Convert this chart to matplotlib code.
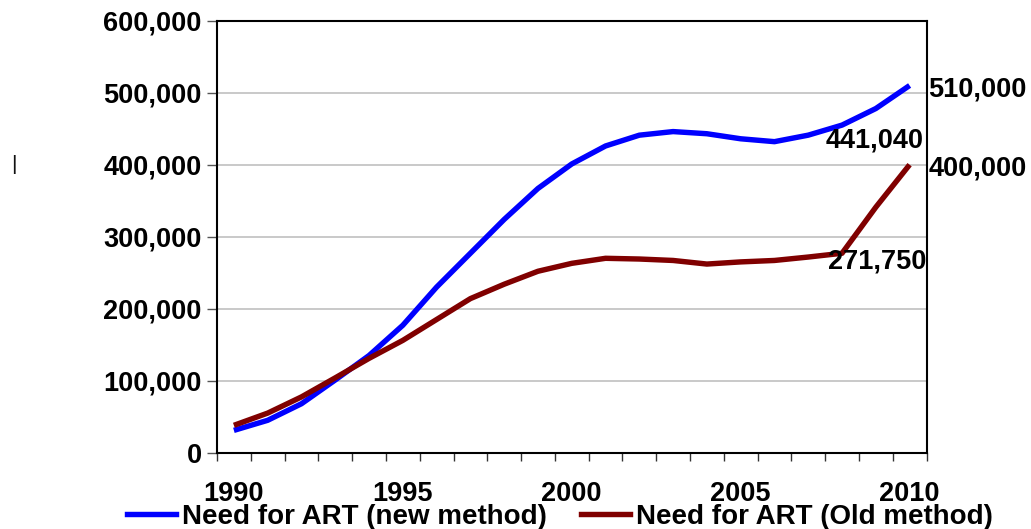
import matplotlib.pyplot as plt
from matplotlib.lines import Line2D

# ART need estimates, 1990-2010
years = list(range(1990, 2011))
need_new = [31000, 45000, 68000, 101000, 135000, 177000, 230000, 277000, 324000, 367000,
            401000, 426000, 441000, 446000, 443000, 436000, 432000, 441040, 455000, 478000, 510000]
need_old = [38000, 55000, 77500, 104000, 131000, 156000, 185000, 214000, 234000, 252000,
            263000, 270000, 269000, 267000, 262000, 265000, 267000, 271750, 277000, 341000, 400000]
year_labels = [1990, 1995, 2000, 2005, 2010]
y_ticks = [0, 100000, 200000, 300000, 400000, 500000, 600000]

plt.rcParams['font.family'] = ['Liberation Sans', 'DejaVu Sans']
plt.rcParams['font.weight'] = 'bold'
FS = 19.5
BLUE = '#0000ff'
RED = '#800000'

fig = plt.figure(figsize=(10.31, 5.29), dpi=100)
ax = fig.add_axes([217 / 1031, 76.3 / 529, 709.5 / 1031, 432 / 529])

idx = list(range(len(years)))
ax.plot(idx, need_new, color=BLUE, lw=3.9, solid_capstyle='butt', zorder=3)
ax.plot(idx, need_old, color=RED, lw=3.9, solid_capstyle='butt', zorder=3)

ax.set_xlim(-0.5, len(years) - 0.5)
ax.set_ylim(0, 600000)

# category boundaries carry the tick marks, labels sit on the years
ax.set_xticks([i - 0.5 for i in range(len(years) + 1)])
ax.set_xticklabels([])
ax.tick_params(axis='x', which='major', length=6, width=1, direction='out', color='#333333')
ax.set_xticks([years.index(y) for y in year_labels], minor=True)
ax.set_xticklabels([str(y) for y in year_labels], minor=True, fontsize=FS, fontweight='bold')
ax.tick_params(axis='x', which='minor', length=0, pad=20.5)

ax.set_yticks(y_ticks)
ax.set_yticklabels([f'{v:,}' for v in y_ticks], fontsize=FS, fontweight='bold')
ax.tick_params(axis='y', length=7, width=1, pad=4, color='#555555')
ax.yaxis.grid(True, color='#c0c0c0', lw=1.2)
ax.set_axisbelow(True)

for s in ax.spines.values():
    s.set_color('black')
    s.set_linewidth(1.5)

# value callouts
last = len(years) - 1
i07 = years.index(2007)
callouts = [
    (last, need_new[last], 13.2, -3.2),
    (last, need_old[last], 13.5, -2.6),
    (i07, need_new[i07], 12.4, -3.5),
    (i07, need_old[i07], 14.3, -3.4),
]
for xi, v, dx, dy in callouts:
    ax.annotate(f'{v:,}', xy=(xi, v), xytext=(dx, dy), textcoords='offset points',
                ha='left', va='center', fontsize=FS, fontweight='bold', annotation_clip=False)

handles = [Line2D([], [], color=BLUE, lw=3.9), Line2D([], [], color=RED, lw=3.9)]
fig.legend(handles, ['Need for ART (new method)', 'Need for ART (Old method)'],
           loc='center', bbox_to_anchor=(560 / 1031, 12.5 / 529), ncol=2, frameon=False,
           fontsize=20, handlelength=1.75, handletextpad=0.22, columnspacing=1.25,
           borderpad=0, borderaxespad=0)

fig.text(14 / 1031, 1 - 165 / 529, '|', fontsize=15, fontweight='normal',
         ha='center', va='center', color='#111111')

fig.savefig('out.png', dpi=100)
